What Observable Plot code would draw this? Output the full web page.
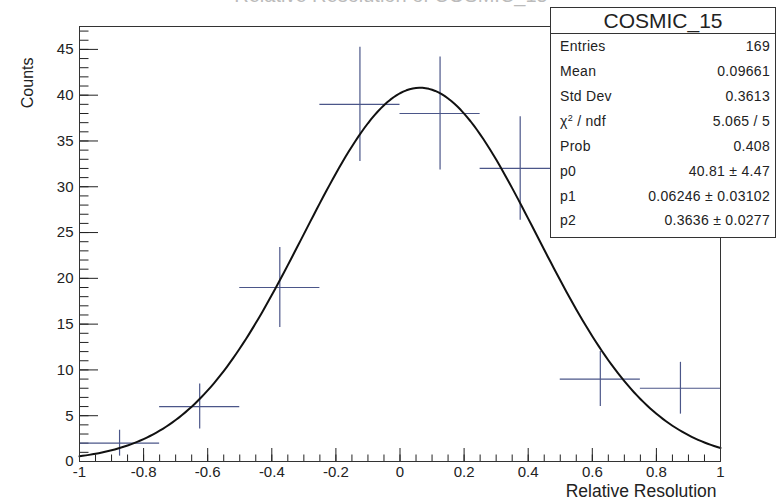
<!DOCTYPE html>
<html>
<head>
<meta charset="utf-8">
<script src="https://cdn.jsdelivr.net/npm/d3@7"></script>
<script src="https://cdn.jsdelivr.net/npm/@observablehq/plot@0.6"></script>
<style>
  body { margin: 0; background: #fff; }
  #wrap { position: relative; width: 777px; height: 500px; overflow: hidden; font-family: "Liberation Sans", Arial, Helvetica, sans-serif; color: #222; }
  #stats { position: absolute; left: 550px; top: 7px; width: 224px; height: 229px; border: 1px solid #333; background: #fff; }
  #stats .head { height: 25px; border-bottom: 1px solid #333; text-align: center; font-size: 21px; line-height: 26px; }
  #stats .row { height: 24.86px; display: flex; justify-content: space-between; align-items: center; padding: 0 5px 0 9px; font-size: 14px; letter-spacing: 0.3px; }
  #stats sup { font-size: 9px; vertical-align: 5px; }
</style>
</head>
<body>
<div id="wrap"></div>
<script>
// Histogram bins (bin edges and entries per bin)
const binLo  = [-1, -0.75, -0.5, -0.25, 0, 0.25, 0.5, 0.75];
const binHi  = [-0.75, -0.5, -0.25, 0, 0.25, 0.5, 0.75, 1];
const counts = [2, 6, 19, 39, 38, 32, 9, 8];

// Gaussian fit parameters: p0 * exp(-0.5 * ((x - p1) / p2)^2)
const p0 = 40.81, p1 = 0.06246, p2 = 0.3636;

// Axis tick values and labels
const xMajor = [-1, -0.8, -0.6, -0.4, -0.2, 0, 0.2, 0.4, 0.6, 0.8, 1];
const xTickLabels = ["-1", "-0.8", "-0.6", "-0.4", "-0.2", "0", "0.2", "0.4", "0.6", "0.8", "1"];
const yMajor = [0, 5, 10, 15, 20, 25, 30, 35, 40, 45];
const yTickLabels = ["0", "5", "10", "15", "20", "25", "30", "35", "40", "45"];

// Statistics box contents
const statsTitle = "COSMIC_15";
const statNames  = ["Entries", "Mean", "Std Dev", "χ<sup>2</sup> / ndf", "Prob", "p0", "p1", "p2"];
const statValues = ["169", "0.09661", "0.3613", "5.065 / 5", "0.408", "40.81 ± 4.47", "0.06246 ± 0.03102", "0.3636 ± 0.0277"];

const histTitle = "Relative Resolution of COSMIC_15";
const xTitle = "Relative Resolution";
const yTitle = "Counts";

const W = 777, H = 500;
const mL = 79, mR = 57, mT = 26, mB = 39;
const plotW = W - mL - mR, plotH = H - mT - mB;

const bins = counts.map((c, i) => ({lo: binLo[i], hi: binHi[i], mid: (binLo[i] + binHi[i]) / 2, count: c, err: Math.sqrt(c)}));

// Fit function evaluated along the x range
const fit = d3.range(0, 201).map(i => {
  const x = -1 + i * 0.01;
  return {x, y: p0 * Math.exp(-0.5 * ((x - p1) / p2) ** 2)};
});

const xMinor = d3.range(-1, 1.0001, 0.05);
const yMinor = d3.range(0, 47.5, 1);
const ink = "#222";
const errColor = "#4b5689";

const chart = Plot.plot({
  width: W, height: H,
  marginLeft: mL, marginRight: mR, marginTop: mT, marginBottom: mB,
  style: {fontFamily: '"Liberation Sans", Arial, Helvetica, sans-serif', color: ink, background: "#fff"},
  x: {domain: [-1, 1]},
  y: {domain: [0, 47.5]},
  marks: [
    // inward ticks, ROOT style
    Plot.tickY(yMinor, {y: d => d, insetRight: plotW - 9.5, stroke: ink}),
    Plot.tickY(yMajor, {y: d => d, insetRight: plotW - 19, stroke: ink}),
    Plot.tickX(xMinor, {x: d => d, insetTop: plotH - 6.5, stroke: ink}),
    Plot.tickX(xMajor, {x: d => d, insetTop: plotH - 13, stroke: ink}),
    Plot.axisY({ticks: yMajor, tickSize: 0, tickPadding: 6, tickFormat: (d, i) => yTickLabels[i], fontSize: 15, label: null}),
    Plot.axisX({ticks: xMajor, tickSize: 0, tickPadding: 5, tickFormat: (d, i) => xTickLabels[i], fontSize: 15, label: null}),
    // error bars
    Plot.ruleY(bins, {y: "count", x1: "lo", x2: "hi", stroke: errColor, strokeWidth: 1.2}),
    Plot.ruleX(bins, {x: "mid", y1: d => d.count - d.err, y2: d => d.count + d.err, stroke: errColor, strokeWidth: 1.2}),
    // fitted gaussian
    Plot.line(fit, {x: "x", y: "y", stroke: "#111", strokeWidth: 2}),
    Plot.frame({stroke: "#333"}),
    // titles
    Plot.text([xTitle], {frameAnchor: "bottom-right", dx: -4, dy: 35, lineAnchor: "bottom", textAnchor: "end", fontSize: 17.5, fill: ink}),
    Plot.text([yTitle], {frameAnchor: "top-left", dx: -47, dy: 31, rotate: -90, textAnchor: "end", lineAnchor: "bottom", fontSize: 16, fill: ink}),
    Plot.text([histTitle], {frameAnchor: "top", dx: -9, dy: -24.5, lineAnchor: "bottom", fontSize: 20, fill: "#bbb"})
  ]
});

const wrap = document.getElementById("wrap");
wrap.appendChild(chart);

const box = document.createElement("div");
box.id = "stats";
box.innerHTML = `<div class="head">${statsTitle}</div>` +
  statNames.map((n, i) => `<div class="row"><span>${n}</span><span>${statValues[i]}</span></div>`).join("");
wrap.appendChild(box);
</script>
</body>
</html>
